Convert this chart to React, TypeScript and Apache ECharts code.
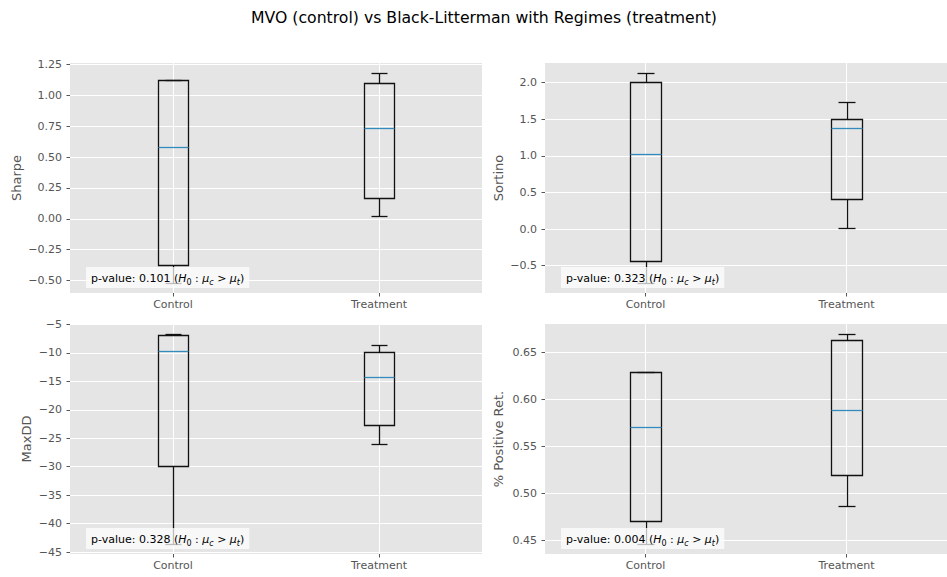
import React, { useEffect, useRef } from 'react';
import * as echarts from 'echarts';

// ---- data (min, Q1, median, Q3, max) ----
const groups = ['Control', 'Treatment'];
const metricNames = ['Sharpe', 'Sortino', 'MaxDD', '% Positive Ret.'];

const sharpeControl = [-0.516, -0.37, 0.58, 1.122, 1.128];
const sharpeTreatment = [0.022, 0.17, 0.733, 1.099, 1.178];
const sortinoControl = [-0.73, -0.433, 1.03, 2.005, 2.127];
const sortinoTreatment = [0.017, 0.417, 1.383, 1.5, 1.737];
const maxddControl = [-43.5, -29.94, -9.6, -6.85, -6.75];
const maxddTreatment = [-26.0, -22.6, -14.2, -9.8, -8.6];
const posRetControl = [0.4465, 0.47, 0.571, 0.629, 0.629];
const posRetTreatment = [0.4866, 0.519, 0.589, 0.663, 0.669];

const pValues = ['0.101', '0.323', '0.328', '0.004'];

const sharpeTicks = [-0.5, -0.25, 0, 0.25, 0.5, 0.75, 1.0, 1.25];
const sortinoTicks = [-0.5, 0, 0.5, 1.0, 1.5, 2.0];
const maxddTicks = [-45, -40, -35, -30, -25, -20, -15, -10, -5];
const posRetTicks = [0.45, 0.5, 0.55, 0.6, 0.65];
const tickDecimals = [2, 1, 0, 2];

const titleText = 'MVO (control) vs Black-Litterman with Regimes (treatment)';

// ---- layout ----
const grids = [
  { left: 70, top: 63, width: 412, height: 230 },
  { left: 545, top: 63, width: 412, height: 230 },
  { left: 70, top: 324, width: 412, height: 230 },
  { left: 545, top: 324, width: 412, height: 230 },
];
const nameGaps = [47, 40.5, 36.7, 40.5];

const FONT = 'DejaVu Sans';
const GREY = '#555555';

const fmt = (v: number, d: number) => v.toFixed(d).replace('-', '\u2212');

function renderBox(params: any, api: any) {
  const x = api.value(0);
  const lo = api.value(1), q1 = api.value(2), med = api.value(3), q3 = api.value(4), hi = api.value(5);
  const unit = api.size([1, 0])[0];
  const cxRaw = api.coord([x, med])[0];
  const cx = Math.round(cxRaw) + 0.5;
  const py = (v: number) => Math.round(api.coord([x, v])[1]) + 0.5;
  const bw = unit * 0.15;
  const cw = unit * 0.08;
  const bl = Math.round(cxRaw - bw / 2) + 0.5;
  const br = Math.round(cxRaw + bw / 2) + 0.5;
  const cl = Math.round(cxRaw - cw / 2) + 0.5;
  const cr = Math.round(cxRaw + cw / 2) + 0.5;
  const yLo = py(lo), yQ1 = py(q1), yMed = py(med), yQ3 = py(q3), yHi = py(hi);
  const ls = { stroke: '#111111', lineWidth: 1.3, fill: null };
  return {
    type: 'group',
    children: [
      { type: 'line', shape: { x1: cx, y1: yQ1, x2: cx, y2: yLo }, style: ls },
      { type: 'line', shape: { x1: cx, y1: yQ3, x2: cx, y2: yHi }, style: ls },
      { type: 'line', shape: { x1: cl, y1: yLo, x2: cr, y2: yLo }, style: ls },
      { type: 'line', shape: { x1: cl, y1: yHi, x2: cr, y2: yHi }, style: ls },
      { type: 'rect', shape: { x: bl, y: yQ3, width: br - bl, height: yQ1 - yQ3 }, style: { stroke: '#111111', lineWidth: 1.3, fill: 'none' } },
      { type: 'line', shape: { x1: bl, y1: yMed, x2: br, y2: yMed }, style: { stroke: '#348ABD', lineWidth: 1.3 } },
    ],
  };
}

export default function App() {
  const ref = useRef<HTMLDivElement>(null);
  useEffect(() => {
    if (!ref.current) return;
    const chart = echarts.init(ref.current, undefined, { renderer: 'svg' });

    const allData = [
      [sharpeControl, sharpeTreatment],
      [sortinoControl, sortinoTreatment],
      [maxddControl, maxddTreatment],
      [posRetControl, posRetTreatment],
    ];
    const allTicks = [sharpeTicks, sortinoTicks, maxddTicks, posRetTicks];

    const xAxes: any[] = [];
    const yAxes: any[] = [];
    const series: any[] = [];
    const graphics: any[] = [];

    allData.forEach((pair, i) => {
      const lo = Math.min(pair[0][0], pair[1][0]);
      const hi = Math.max(pair[0][4], pair[1][4]);
      const pad = (hi - lo) * 0.05;
      xAxes.push({
        type: 'value',
        gridIndex: i,
        min: 0.5,
        max: 2.5,
        axisLine: { show: false, onZero: false },
        axisTick: { show: true, length: 3.5, lineStyle: { color: GREY, width: 1 }, customValues: [1, 2] },
        axisLabel: {
          color: GREY, fontSize: 11, fontFamily: FONT, margin: 6,
          customValues: [1, 2],
          formatter: (v: number) => groups[Math.round(v) - 1] ?? '',
        },
        splitLine: { show: true, lineStyle: { color: '#ffffff', width: 1 } },
      });
      yAxes.push({
        type: 'value',
        gridIndex: i,
        min: lo - pad,
        max: hi + pad,
        name: metricNames[i],
        nameLocation: 'middle',
        nameGap: nameGaps[i],
        nameTextStyle: { color: GREY, fontSize: 13, fontFamily: FONT },
        axisLine: { show: false, onZero: false },
        axisTick: { show: true, length: 3.5, lineStyle: { color: GREY, width: 1 }, customValues: allTicks[i] },
        axisLabel: {
          color: GREY, fontSize: 11, fontFamily: FONT, margin: 8,
          customValues: allTicks[i],
          formatter: (v: number) => fmt(v, tickDecimals[i]),
        },
        splitLine: { show: true, lineStyle: { color: '#ffffff', width: 1 } },
      });
      series.push({
        type: 'custom',
        xAxisIndex: i,
        yAxisIndex: i,
        renderItem: renderBox,
        encode: { x: 0, y: [1, 2, 3, 4, 5] },
        data: pair.map((d, k) => [k + 1, ...d]),
        z: 5,
      });
      const g = grids[i];
      graphics.push({
        type: 'text',
        x: g.left + 16,
        y: g.top + g.height - 26,
        z: 100,
        style: {
          text: `{n|p-value: ${pValues[i]} (}{i|H}{s|0}{n| : }{i|\u03bc}{si|c}{n| > }{i|\u03bc}{si|t}{n|)}`,
          backgroundColor: 'rgba(255,255,255,0.72)',
          padding: [3, 5, 2, 5],
          align: 'left',
          verticalAlign: 'top',
          rich: {
            n: { fontSize: 11, fontFamily: FONT, fill: '#000', lineHeight: 16, verticalAlign: 'middle' },
            i: { fontSize: 11, fontFamily: FONT, fontStyle: 'italic', fill: '#000', lineHeight: 16, verticalAlign: 'middle' },
            s: { fontSize: 8, fontFamily: FONT, fill: '#000', lineHeight: 9, verticalAlign: 'bottom' },
            si: { fontSize: 8, fontFamily: FONT, fontStyle: 'italic', fill: '#000', lineHeight: 9, verticalAlign: 'bottom' },
          },
        },
      });
    });

    graphics.push({
      type: 'text',
      x: 484,
      y: 17,
      style: {
        text: titleText,
        fontSize: 15.7,
        fontFamily: FONT,
        fill: '#000',
        align: 'center',
        verticalAlign: 'middle',
      },
    });

    chart.setOption({
      animation: false,
      backgroundColor: '#ffffff',
      textStyle: { fontFamily: FONT },
      grid: grids.map((g) => ({
        ...g,
        show: true,
        backgroundColor: '#E5E5E5',
        borderWidth: 0,
        containLabel: false,
      })),
      xAxis: xAxes,
      yAxis: yAxes,
      series,
      graphic: { elements: graphics },
    });

    return () => chart.dispose();
  }, []);

  return (
    <div
      ref={ref}
      style={{ position: 'fixed', left: 0, top: 0, width: 947, height: 577 }}
    />
  );
}
